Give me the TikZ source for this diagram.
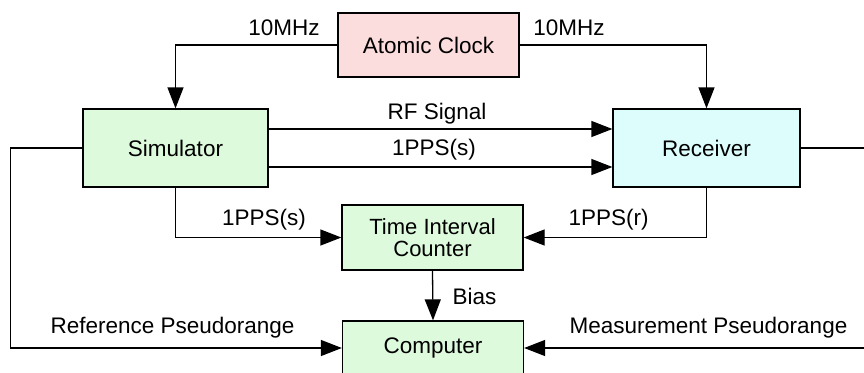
\documentclass[tikz,border=0pt]{standalone}
\usepackage{fontspec}
\setmainfont{Liberation Sans}
\usetikzlibrary{arrows.meta,calc}
\definecolor{clockfill}{RGB}{252,221,221}
\definecolor{greenfill}{RGB}{221,250,221}
\definecolor{cyanfill}{RGB}{221,252,252}
\begin{document}
\begin{tikzpicture}[x=1pt,y=-1pt,
  box/.style={draw=black,line width=1.3pt,inner sep=0pt,align=center,font=\fontsize{22.5}{23}\selectfont},
  conn/.style={line width=1.3pt,-{Triangle[length=21pt,width=16pt]}},
  lbl/.style={anchor=base,inner sep=0pt,font=\fontsize{22.5}{23}\selectfont}]
\useasboundingbox (0,0) rectangle (864,372);
\clip (0,0) rectangle (864,372);
\node[box,fill=clockfill,minimum width=181pt,minimum height=64pt] (clock) at (428.5,45) {Atomic Clock};
\node[box,fill=greenfill,minimum width=185pt,minimum height=78pt] (sim) at (175.5,148) {Simulator};
\node[box,fill=cyanfill,minimum width=187pt,minimum height=78pt] (rec) at (706.5,148) {Receiver};
\node[box,fill=greenfill,minimum width=181pt,minimum height=65pt,font=\fontsize{22}{22.5}\selectfont] (tic) at (432.5,237.5) {Time Interval\\Counter};
\node[box,fill=greenfill,minimum width=181pt,minimum height=54pt] (comp) at (433,348) {Computer};

\draw[conn] (clock.west) -| (sim.north);
\draw[conn] (clock.east) -| (rec.north);
\draw[conn] ([yshift=19pt]sim.east) -- ([yshift=19pt]rec.west);
\draw[conn] ([yshift=-19pt]sim.east) -- ([yshift=-19pt]rec.west);
\draw[conn] (sim.south) |- (tic.west);
\draw[conn] (rec.south) |- (tic.east);
\draw[conn] (tic.south) -- (comp.north);
\draw[conn] (sim.west) -- ++(-72pt,0) |- (comp.west);
\draw[conn] (rec.east) -- ++(72pt,0) |- (comp.east);

\node[lbl] (f1) at (284,35) {10MHz};
\node[lbl] (f2) at (569,35) {10MHz};
\node[lbl] (rf) at (437,119) {RF Signal};
\node[lbl] (pps1) at (434,155) {1PPS(s)};
\node[lbl] (pps2) at (264,225) {1PPS(s)};
\node[lbl] (pps3) at (608.5,225) {1PPS(r)};
\node[lbl] (bias) at (474.5,304) {Bias};
\node[lbl] (refp) at (172.5,333) {Reference Pseudorange};
\node[lbl] (meas) at (708.5,333) {Measurement Pseudorange};
\end{tikzpicture}
\end{document}
